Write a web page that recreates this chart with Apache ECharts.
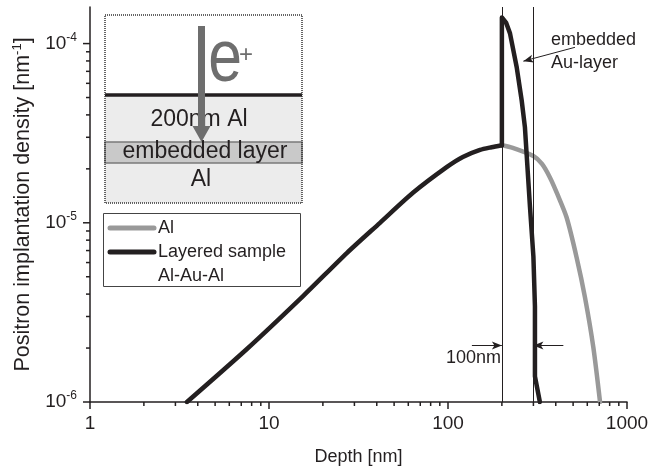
<!DOCTYPE html>
<html>
<head>
<meta charset="utf-8">
<script src="https://cdn.jsdelivr.net/npm/echarts@6/dist/echarts.min.js"></script>
<style>
  html, body {margin: 0; padding: 0; background: #fff;}
  #chart {width: 664px; height: 472px;}
</style>
</head>
<body>
<div id="chart"></div>
<script>
var FONT = 'Liberation Sans, Arial, Helvetica, sans-serif';
var INK = '#231f20';
var GREY = '#999999';

// depth [nm] / density [nm^-1]
// common part of both profiles (inside the first 200nm of Al)
var riseDepth = [3.48, 7.5, 15.5, 27.3, 41.7, 63.7, 98.7, 121, 151, 175, 200];
var riseDensity = [1e-6, 1.97e-6, 3.9e-6, 6.8e-6, 1e-5, 1.47e-5, 2.05e-5, 2.33e-5, 2.55e-5, 2.64e-5, 2.71e-5];
// pure Al beyond 200nm
var alTailDepth = [200, 230, 300, 335, 371, 410, 460, 523, 582, 648, 707];
var alTailDensity = [2.71e-5, 2.62e-5, 2.36e-5, 2.13e-5, 1.79e-5, 1.43e-5, 1.07e-5, 6.41e-6, 3.85e-6, 2.03e-6, 1e-6];
// layered sample beyond 200nm (Au layer)
var auTailDepth = [200, 200, 211, 222, 242, 258, 269, 287, 300, 306, 306, 326];
var auTailDensity = [2.71e-5, 1.40e-4, 1.31e-4, 1.14e-4, 7.38e-5, 4.82e-5, 3.41e-5, 1.23e-5, 6.47e-6, 3.41e-6, 1.39e-6, 1e-6];

// layer boundaries (200nm Al, then 100nm Au)
var layerEdges = [200, 300];

// axis ticks
var xMajor = [1, 10, 100, 1000];
var xMinor = [2, 3, 4, 5, 6, 7, 8, 9, 20, 30, 40, 50, 60, 70, 80, 90, 200, 300, 400, 500, 600, 700, 800, 900];
var yMajor = [1e-6, 1e-5, 1e-4];
var yMinor = [2e-6, 3e-6, 4e-6, 5e-6, 6e-6, 7e-6, 8e-6, 9e-6, 2e-5, 3e-5, 4e-5, 5e-5, 6e-5, 7e-5, 8e-5, 9e-5];
var X_MIN = 1, X_MAX = 1000, Y_MIN = 1e-6, Y_MAX = 1.6e-4;

function zip(xs, ys) {
  return xs.map(function (x, i) { return [x, ys[i]]; });
}

var xTickData = xMajor.map(function (v) { return [v, Y_MIN, 7]; })
  .concat(xMinor.map(function (v) { return [v, Y_MIN, 4]; }));
var yTickData = yMajor.map(function (v) { return [X_MIN, v, 7]; })
  .concat(yMinor.map(function (v) { return [X_MIN, v, 4]; }));

function tickRenderer(onX) {
  return function (params, api) {
    var p = api.coord([api.value(0), api.value(1)]);
    var len = api.value(2);
    return {
      type: 'line',
      shape: onX
        ? {x1: p[0], y1: p[1], x2: p[0], y2: p[1] + len}
        : {x1: p[0] - len, y1: p[1], x2: p[0], y2: p[1]},
      style: {stroke: INK, lineWidth: 1.5}
    };
  };
}

function isDecade(v) {
  var l = Math.log10(v);
  return Math.abs(l - Math.round(l)) < 1e-6;
}

var chart = echarts.init(document.getElementById('chart'));

var option = {
  animation: false,
  textStyle: {fontFamily: FONT},
  grid: {left: 90, right: 37, top: 7, bottom: 70, containLabel: false},
  xAxis: {
    type: 'log',
    logBase: 10,
    min: X_MIN,
    max: X_MAX,
    name: 'Depth [nm]',
    nameLocation: 'middle',
    nameGap: 46,
    nameTextStyle: {fontSize: 18, color: INK, fontFamily: FONT},
    axisLine: {lineStyle: {color: INK, width: 1.5}},
    axisTick: {show: false},
    splitLine: {show: false},
    axisLabel: {
      fontSize: 19, color: INK, margin: 12, fontFamily: FONT,
      formatter: function (v) { return isDecade(v) ? String(Math.round(v)) : ''; }
    }
  },
  yAxis: {
    type: 'log',
    logBase: 10,
    min: Y_MIN,
    max: Y_MAX,
    name: 'Positron implantation density [nm{s|-1}]',
    nameLocation: 'middle',
    nameGap: 51,
    nameTextStyle: {
      fontSize: 21.5, color: INK, fontFamily: FONT,
      rich: {s: {fontSize: 13, color: INK, fontFamily: FONT, padding: [0, 0, 11, 0]}}
    },
    axisLine: {lineStyle: {color: INK, width: 1.5}},
    axisTick: {show: false},
    splitLine: {show: false},
    axisLabel: {
      margin: 13,
      formatter: function (v) {
        if (!isDecade(v)) return '';
        return '{b|10}{s|' + Math.round(Math.log10(v)) + '}';
      },
      rich: {
        b: {fontSize: 19, color: INK, fontFamily: FONT},
        s: {fontSize: 12, color: INK, fontFamily: FONT, padding: [0, 0, 12, 0]}
      }
    }
  },
  series: [
    {
      name: 'Al',
      type: 'line',
      data: zip(alTailDepth, alTailDensity),
      showSymbol: false,
      smooth: 0.25,
      lineStyle: {color: GREY, width: 4.5, cap: 'round', join: 'round'},
      z: 3,
      silent: true
    },
    {
      name: 'Layered sample',
      type: 'line',
      data: zip(auTailDepth, auTailDensity),
      showSymbol: false,
      lineStyle: {color: INK, width: 4.5, cap: 'round', join: 'round'},
      z: 4,
      silent: true,
      markLine: {
        silent: true,
        symbol: 'none',
        label: {show: false},
        lineStyle: {color: INK, width: 1, type: 'solid'},
        data: layerEdges.map(function (d) { return {xAxis: d}; }).concat([
          [
            {coord: [136, 2.07e-6], symbol: 'none'},
            {coord: [200, 2.07e-6], symbol: 'arrow', symbolSize: [6, 10]}
          ],
          [
            {coord: [441, 2.07e-6], symbol: 'none'},
            {coord: [300, 2.07e-6], symbol: 'arrow', symbolSize: [6, 10]}
          ],
          [
            {coord: [512, 9.53e-5], symbol: 'none'},
            {coord: [263.6, 7.98e-5], symbol: 'arrow', symbolSize: [6, 10]}
          ]
        ])
      }
    },
    {
      name: 'common',
      type: 'line',
      data: zip(riseDepth, riseDensity),
      showSymbol: false,
      smooth: 0.25,
      lineStyle: {color: INK, width: 4.5, cap: 'round', join: 'round'},
      z: 4,
      silent: true
    },
    {
      type: 'custom',
      data: xTickData,
      renderItem: tickRenderer(true),
      silent: true,
      clip: false,
      z: 5
    },
    {
      type: 'custom',
      data: yTickData,
      renderItem: tickRenderer(false),
      silent: true,
      clip: false,
      z: 5
    }
  ],
  graphic: [
    // sample sketch
    {type: 'rect', shape: {x: 105, y: 15, width: 197, height: 80}, style: {fill: '#ffffff'}, z: 10},
    {type: 'rect', shape: {x: 105, y: 95, width: 197, height: 108}, style: {fill: '#ececec'}, z: 10},
    {type: 'rect', shape: {x: 105, y: 142, width: 197, height: 21}, style: {fill: '#c9c9c9', stroke: '#7a7a7a', lineWidth: 1.5}, z: 11},
    {type: 'line', shape: {x1: 105, y1: 95, x2: 302, y2: 95}, style: {stroke: INK, lineWidth: 3.5}, z: 12},
    {type: 'rect', shape: {x: 105, y: 15, width: 197, height: 188}, style: {fill: null, stroke: '#333', lineWidth: 1.5, lineDash: [1, 1]}, z: 12},
    {type: 'text', x: 199, y: 120, style: {text: '200nm Al', fontSize: 23, fontFamily: FONT, fill: INK, align: 'center', verticalAlign: 'middle'}, z: 13},
    {type: 'text', x: 205, y: 152, style: {text: 'embedded layer', fontSize: 23, fontFamily: FONT, fill: INK, align: 'center', verticalAlign: 'middle'}, z: 13},
    {type: 'text', x: 201, y: 180, style: {text: 'Al', fontSize: 23, fontFamily: FONT, fill: INK, align: 'center', verticalAlign: 'middle'}, z: 13},
    {type: 'rect', shape: {x: 198, y: 26, width: 7, height: 102}, style: {fill: '#6e6e6e'}, z: 14},
    {type: 'polygon', shape: {points: [[192.5, 126], [210.5, 126], [201.5, 142]]}, style: {fill: '#6e6e6e'}, z: 14},
    {type: 'text', x: 225, y: 61, scaleX: 0.82, style: {text: 'e', fontSize: 74, fontFamily: FONT, fill: '#6e6e6e', align: 'center', verticalAlign: 'middle'}, z: 13},
    {type: 'text', x: 246, y: 55, style: {text: '+', fontSize: 24, fontFamily: FONT, fill: '#6e6e6e', align: 'center', verticalAlign: 'middle'}, z: 13},
    // legend
    {type: 'rect', shape: {x: 103.5, y: 213.5, width: 197, height: 73}, style: {fill: '#fff', stroke: '#444', lineWidth: 1}, z: 10},
    {type: 'line', shape: {x1: 110, y1: 228, x2: 154, y2: 228}, style: {stroke: GREY, lineWidth: 5, lineCap: 'round'}, z: 11},
    {type: 'line', shape: {x1: 110, y1: 252, x2: 154, y2: 252}, style: {stroke: INK, lineWidth: 5, lineCap: 'round'}, z: 11},
    {type: 'text', x: 158, y: 228, style: {text: 'Al', fontSize: 18, fontFamily: FONT, fill: INK, verticalAlign: 'middle'}, z: 11},
    {type: 'text', x: 158, y: 252, style: {text: 'Layered sample', fontSize: 18, fontFamily: FONT, fill: INK, verticalAlign: 'middle'}, z: 11},
    {type: 'text', x: 158, y: 276, style: {text: 'Al-Au-Al', fontSize: 18, fontFamily: FONT, fill: INK, verticalAlign: 'middle'}, z: 11},
    // annotations
    {type: 'text', x: 551, y: 40, style: {text: 'embedded', fontSize: 18, fontFamily: FONT, fill: INK, verticalAlign: 'middle'}, z: 11},
    {type: 'text', x: 551, y: 63, style: {text: 'Au-layer', fontSize: 18, fontFamily: FONT, fill: INK, verticalAlign: 'middle'}, z: 11},
    {type: 'text', x: 501, y: 358, style: {text: '100nm', fontSize: 18, fontFamily: FONT, fill: INK, align: 'right', verticalAlign: 'middle'}, z: 11}
  ]
};

chart.setOption(option);
window.onresize = function () { chart.resize(); };
</script>
</body>
</html>
